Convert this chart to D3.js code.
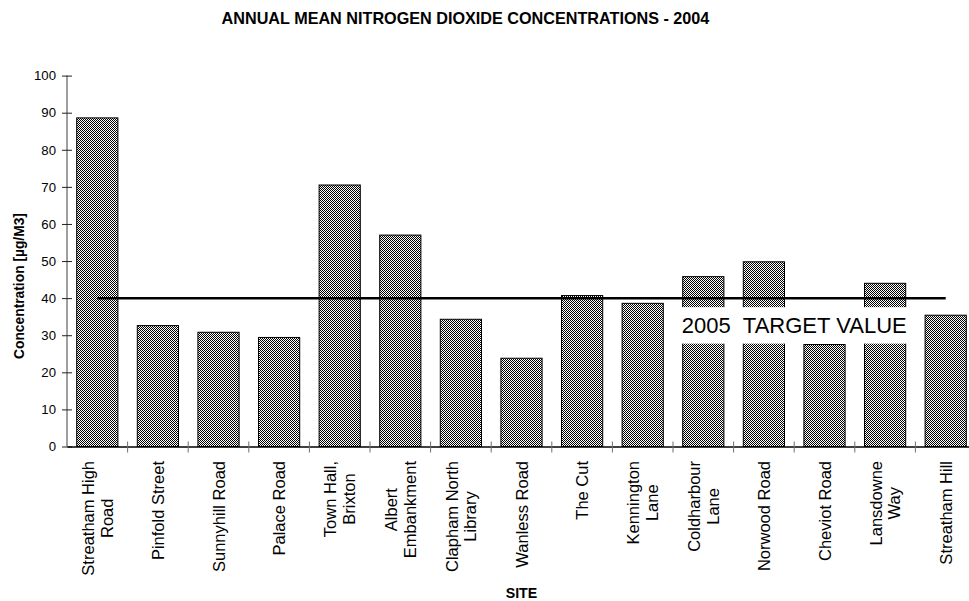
<!DOCTYPE html>
<html>
<head>
<meta charset="utf-8">
<script src="https://cdn.jsdelivr.net/npm/d3@7"></script>
<style>
  html, body { margin: 0; padding: 0; background: #fff; }
  svg { display: block; font-family: "Liberation Sans", Arial, sans-serif; }
</style>
</head>
<body>
<svg id="chart" width="969" height="601"></svg>
<script>
// Monitoring sites (line breaks mark where the axis label wraps)
const sites = [
  "Streatham High\nRoad", "Pinfold Street", "Sunnyhill Road", "Palace Road",
  "Town Hall,\nBrixton", "Albert\nEmbankment", "Clapham North\nLibrary",
  "Wanless Road", "The Cut", "Kennington\nLane", "Coldharbour\nLane",
  "Norwood Road", "Cheviot Road", "Lansdowne\nWay", "Streatham Hill"
];
// Annual mean NO2, µg/m3
const concentrations = [88.6, 32.6, 30.8, 29.4, 70.5, 57.0, 34.3, 23.8, 40.7, 38.6, 45.8, 49.8, 27.5, 44.0, 35.4];
const targetValue = 40;
const yTicks = [0, 10, 20, 30, 40, 50, 60, 70, 80, 90, 100];

const title = "ANNUAL MEAN NITROGEN DIOXIDE CONCENTRATIONS - 2004";
const yTitle = "Concentration [µg/M3]";
const xTitle = "SITE";
const targetLabel = "2005\u00a0\u00a0TARGET VALUE";

const svg = d3.select("#chart");

// pattern fill for the bars
const defs = svg.append("defs");
const pat = defs.append("pattern")
  .attr("id", "checker").attr("patternUnits", "userSpaceOnUse")
  .attr("width", 2).attr("height", 2);
pat.append("rect").attr("width", 2).attr("height", 2).attr("fill", "#fff");
pat.append("rect").attr("width", 1).attr("height", 1).attr("fill", "#000");
pat.append("rect").attr("x", 1).attr("y", 1).attr("width", 1).attr("height", 1).attr("fill", "#000");

const x0 = 67, step = 60.6;
const x = d3.scaleBand()
  .domain(sites)
  .range([x0, x0 + step * sites.length])
  .paddingInner(0.32)
  .paddingOuter(0.16);

const y = d3.scaleLinear().domain([0, 100]).range([446.5, 75.6]);

// title
svg.append("text")
  .attr("x", 465.5).attr("y", 24)
  .attr("text-anchor", "middle")
  .attr("font-weight", "bold").attr("font-size", 16.2)
  .text(title);

// bars
svg.append("g").selectAll("rect")
  .data(sites)
  .join("rect")
  .attr("x", d => x(d))
  .attr("width", x.bandwidth())
  .attr("y", (d, i) => y(concentrations[i]))
  .attr("height", (d, i) => y(0) - y(concentrations[i]))
  .attr("fill", "url(#checker)")
  .attr("stroke", "#000").attr("stroke-width", 1);

// y axis
const yAxis = svg.append("g")
  .attr("transform", `translate(${x0},0)`)
  .call(d3.axisLeft(y).tickValues(yTicks).tickSize(5).tickPadding(6));
yAxis.select(".domain").attr("stroke", "#7f7f7f").attr("stroke-width", 1.5)
  .attr("d", `M0,${y(100)}V${y(0)}`);
yAxis.selectAll(".tick line").attr("x1", 5).attr("x2", -5).attr("stroke", "#222");
yAxis.selectAll(".tick text")
  .attr("font-size", 13.2).attr("fill", "#000")
  .attr("font-family", "Liberation Sans, Arial, sans-serif");

// x axis baseline and category separators
const xAxis = svg.append("g").attr("transform", `translate(0,${y(0)})`)
  .call(d3.axisBottom(x).tickSize(0).tickFormat(""));
xAxis.select(".domain").attr("stroke", "#000").attr("stroke-width", 1.5);
xAxis.selectAll(".tick").remove();
const bounds = d3.range(1, sites.length).map(i => x0 + i * x.step());
xAxis.selectAll("line.sep")
  .data(bounds)
  .join("line")
  .attr("class", "sep")
  .attr("x1", d => d).attr("x2", d => d)
  .attr("y1", -5).attr("y2", 6)
  .attr("stroke", "#6f6f6f").attr("stroke-width", 1);

// rotated, wrapped category labels
const labelTop = 461;
const lineH = 18.5;
const labels = svg.append("g");
sites.forEach(s => {
  const lines = s.split("\n");
  const g = labels.append("g");
  const texts = lines.map((ln, i) => g.append("text")
    .attr("text-anchor", "middle")
    .attr("dominant-baseline", "central")
    .attr("font-size", 16.5)
    .attr("y", (i - (lines.length - 1) / 2) * lineH)
    .text(ln));
  const L = d3.max(texts, t => t.node().getComputedTextLength());
  g.attr("transform", `translate(${x(s) + x.bandwidth() / 2},${labelTop + L / 2}) rotate(-90)`);
});

// axis titles
svg.append("text")
  .attr("transform", `translate(19,286) rotate(-90)`)
  .attr("text-anchor", "middle").attr("dominant-baseline", "central")
  .attr("font-weight", "bold").attr("font-size", 13.8)
  .text(yTitle);

svg.append("text")
  .attr("x", (x.range()[0] + x.range()[1]) / 2).attr("y", 598)
  .attr("text-anchor", "middle")
  .attr("font-weight", "bold").attr("font-size", 14.2)
  .text(xTitle);

// 2005 target line, drawn from the first to the last site centre
const first = sites[0], last = sites[sites.length - 1];
svg.append("line")
  .attr("x1", x(first) + x.bandwidth() / 2)
  .attr("x2", x(last) + x.bandwidth() / 2)
  .attr("y1", y(targetValue)).attr("y2", y(targetValue))
  .attr("stroke", "#000").attr("stroke-width", 2.5);

// target label on a white box
const labelCx = x0 + 12 * x.step();
const labelCy = y(targetValue) + 27;
const lbl = svg.append("g");
const box = lbl.append("rect").attr("fill", "#fff");
const lt = lbl.append("text")
  .attr("x", labelCx).attr("y", labelCy)
  .attr("text-anchor", "middle").attr("dominant-baseline", "central")
  .attr("font-size", 22)
  .text(targetLabel);
const bb = lt.node().getBBox();
box.attr("x", bb.x - 5).attr("width", bb.width + 10)
  .attr("y", y(targetValue) + 9).attr("height", 36.5);
</script>
</body>
</html>
